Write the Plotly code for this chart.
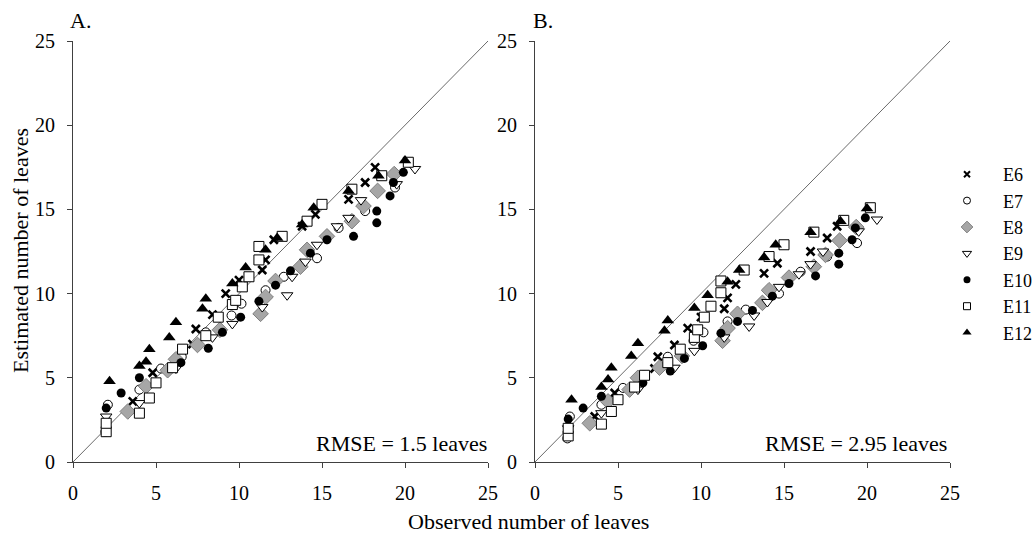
import plotly.graph_objects as go

# ---------------- data ----------------
series = ["E6", "E7", "E8", "E9", "E10", "E11", "E12"]

obs_E6 = [3.6, 4.8, 7.2, 7.4, 8.4, 9.2, 10.0, 11.4, 11.6, 12.1, 13.8, 14.6, 16.6, 17.6, 18.2]
estA_E6 = [3.6, 5.3, 7.0, 7.9, 8.75, 10.0, 10.8, 11.4, 12.0, 13.2, 14.0, 14.7, 15.6, 16.6, 17.5]
estB_E6 = [2.7, 4.1, 5.55, 6.25, 6.95, 7.95, 8.6, 9.1, 9.75, 10.55, 11.2, 11.8, 12.5, 13.3, 14.0]

obs_E7 = [1.95, 2.1, 4.0, 5.3, 6.55, 8.0, 9.55, 10.15, 11.6, 12.7, 14.7, 16.0, 17.6, 19.4]
estA_E7 = [1.8, 3.4, 4.3, 5.55, 6.25, 7.7, 8.7, 9.4, 10.2, 11.0, 12.1, 13.9, 14.9, 16.3]
estB_E7 = [1.4, 2.7, 3.4, 4.4, 5.15, 6.25, 7.2, 7.7, 8.35, 9.05, 10.0, 11.3, 12.2, 13.0]

obs_E8 = [3.3, 4.4, 5.7, 6.2, 7.5, 8.85, 11.3, 11.6, 12.2, 13.7, 14.1, 15.3, 16.8, 17.5, 18.35, 19.35]
estA_E8 = [3.0, 4.5, 5.45, 6.1, 6.95, 7.85, 8.8, 9.8, 10.75, 11.6, 12.6, 13.4, 14.3, 15.2, 16.1, 17.1]
estB_E8 = [2.3, 3.6, 4.3, 5.0, 5.6, 6.3, 7.2, 7.95, 8.8, 9.45, 10.2, 10.95, 11.6, 12.3, 13.15, 13.95]

obs_E9 = [2.0, 4.0, 6.2, 8.4, 9.6, 11.4, 12.9, 13.2, 14.0, 14.7, 15.9, 16.6, 17.35, 19.5, 20.6]
estA_E9 = [2.7, 3.5, 5.55, 7.4, 8.2, 9.2, 9.9, 11.0, 11.9, 12.9, 14.0, 14.5, 15.55, 16.5, 17.4]
estB_E9 = [2.0, 2.9, 4.3, 5.6, 6.6, 7.4, 8.05, 8.7, 9.5, 10.4, 11.15, 11.75, 12.5, 13.7, 14.4]

obs_E10 = [2.0, 2.9, 4.0, 6.5, 8.15, 9.0, 10.1, 11.2, 12.2, 13.1, 14.3, 15.3, 16.9, 18.3, 18.3, 19.1, 19.3, 19.9]
estA_E10 = [3.2, 4.1, 5.0, 5.9, 6.75, 7.7, 8.6, 9.55, 10.5, 11.35, 12.4, 13.2, 13.4, 14.2, 14.9, 15.8, 16.6, 17.2]
estB_E10 = [2.55, 3.2, 3.9, 4.7, 5.4, 6.15, 6.9, 7.65, 8.35, 9.0, 9.85, 10.6, 11.05, 11.75, 12.4, 13.2, 13.9, 14.5]

obs_E11 = [2.0, 2.0, 4.0, 4.6, 5.0, 6.0, 6.6, 8.0, 8.75, 9.6, 9.8, 10.2, 10.6, 11.2, 11.2, 12.6, 14.1, 15.0, 16.8, 18.6, 20.2]
estA_E11 = [1.8, 2.3, 2.9, 3.8, 4.7, 5.6, 6.7, 7.5, 8.6, 9.35, 9.6, 10.4, 11.0, 12.0, 12.8, 13.4, 14.3, 15.3, 16.2, 17.0, 17.8]
estB_E11 = [1.55, 2.0, 2.25, 3.0, 3.7, 4.45, 5.15, 5.9, 6.7, 7.4, 7.85, 8.6, 9.25, 10.05, 10.75, 11.4, 12.2, 12.9, 13.65, 14.35, 15.1]

obs_E12 = [2.2, 4.0, 4.4, 4.6, 5.8, 6.2, 7.8, 8.0, 9.6, 10.4, 11.6, 12.3, 13.8, 14.5, 16.6, 18.4, 20.0]
estA_E12 = [4.8, 5.7, 5.95, 6.7, 7.4, 8.3, 9.1, 9.7, 10.6, 11.55, 12.6, 13.3, 14.1, 15.1, 16.1, 17.0, 17.9]
estB_E12 = [3.7, 4.45, 4.9, 5.6, 6.3, 7.05, 7.8, 8.4, 9.15, 9.9, 10.7, 11.4, 12.15, 12.9, 13.65, 14.3, 15.05]

identity = [0, 25]
tick_vals = [0, 5, 10, 15, 20, 25]
rmse_labels = ["RMSE = 1.5 leaves", "RMSE = 2.95 leaves"]
panel_labels = ["A.", "B."]

obs = [obs_E6, obs_E7, obs_E8, obs_E9, obs_E10, obs_E11, obs_E12]
estA = [estA_E6, estA_E7, estA_E8, estA_E9, estA_E10, estA_E11, estA_E12]
estB = [estB_E6, estB_E7, estB_E8, estB_E9, estB_E10, estB_E11, estB_E12]

# ---------------- styles ----------------
FONT = "Liberation Serif"
W, H = 1036, 535
styles = {
    "E6": dict(symbol="x-thin", size=8, color="black", line=dict(color="black", width=2.6)),
    "E7": dict(symbol="circle", size=9, color="white", line=dict(color="black", width=1)),
    "E8": dict(symbol="diamond", size=12, color="#a6a6a6", line=dict(color="#7f7f7f", width=1)),
    "E9": dict(symbol="triangle-down", size=10, color="white", line=dict(color="black", width=1)),
    "E10": dict(symbol="circle", size=9, color="black", line=dict(color="black", width=0)),
    "E11": dict(symbol="square", size=10, color="white", line=dict(color="black", width=1)),
    "E12": dict(symbol="triangle-up", size=11, color="black", line=dict(color="black", width=0)),
}
legend_size = {"E6": 6, "E7": 7, "E8": 9, "E9": 8, "E10": 7, "E11": 7, "E12": 8}

fig = go.Figure()

for panel, (est, xa, ya) in enumerate([(estA, "x", "y"), (estB, "x2", "y2")]):
    fig.add_trace(go.Scatter(x=identity, y=identity, mode="lines", xaxis=xa, yaxis=ya,
                             line=dict(color="#6a6a6a", width=1), showlegend=False,
                             hoverinfo="skip"))
    for name, xo, ye in zip(series, obs, est):
        fig.add_trace(go.Scatter(x=xo, y=ye, mode="markers", name=name, xaxis=xa, yaxis=ya,
                                 marker=styles[name], showlegend=False, legendgroup=name,
                                 cliponaxis=False))

# legend entries (smaller symbols, as in the reference legend)
for name in series:
    m = dict(styles[name])
    m["size"] = legend_size[name]
    if name == "E6":
        m["line"] = dict(color="black", width=2)
    fig.add_trace(go.Scatter(x=[None], y=[None], mode="markers", name=name, marker=m,
                             legendgroup=name, showlegend=True))

def px_x(p):
    return p / W

def px_y(p):
    return 1 - p / H

axis_common = dict(range=[0, 25], tickvals=tick_vals, showline=True, linecolor="#404040",
                   linewidth=1, ticks="outside", ticklen=5, tickcolor="#404040", tickwidth=1,
                   showgrid=False, zeroline=False, mirror=False, automargin=False,
                   tickfont=dict(family=FONT, size=20, color="black"))

ydom = [px_y(462), px_y(41)]
fig.update_layout(
    width=W, height=H,
    margin=dict(l=0, r=0, t=0, b=0, autoexpand=False),
    paper_bgcolor="white", plot_bgcolor="white",
    font=dict(family=FONT, color="black"),
    xaxis=dict(domain=[px_x(73), px_x(488)], anchor="y", ticklabelstandoff=8, **axis_common),
    yaxis=dict(domain=ydom, anchor="x", ticklabelstandoff=8, **axis_common),
    xaxis2=dict(domain=[px_x(535), px_x(950)], anchor="y2", ticklabelstandoff=8, **axis_common),
    yaxis2=dict(domain=ydom, anchor="x2", ticklabelstandoff=8, **axis_common),
    legend=dict(x=px_x(931), y=px_y(156), xanchor="left", yanchor="top",
                font=dict(family=FONT, size=18, color="black"), bgcolor="rgba(0,0,0,0)",
                itemsizing="trace", itemwidth=62, tracegroupgap=0),
    showlegend=True,
)

annots = [
    dict(text=panel_labels[0], x=px_x(68), y=px_y(20), xanchor="left", yanchor="middle"),
    dict(text=panel_labels[1], x=px_x(531), y=px_y(20), xanchor="left", yanchor="middle"),
    dict(text=rmse_labels[0], x=px_x(489), y=px_y(443), xanchor="right", yanchor="middle"),
    dict(text=rmse_labels[1], x=px_x(949), y=px_y(443), xanchor="right", yanchor="middle"),
    dict(text="Observed number of leaves", x=px_x(528), y=px_y(521), xanchor="center", yanchor="middle"),
    dict(text="Estimated number of leaves", x=px_x(20), y=px_y(251), xanchor="center", yanchor="middle",
         textangle=-90),
]
for a in annots:
    fig.add_annotation(xref="paper", yref="paper", showarrow=False,
                       font=dict(family=FONT, size=22, color="black"), **a)

fig.write_html("out.html", config={"displayModeBar": False},
               post_script="document.body.style.margin='0';document.body.style.overflow='hidden';")
